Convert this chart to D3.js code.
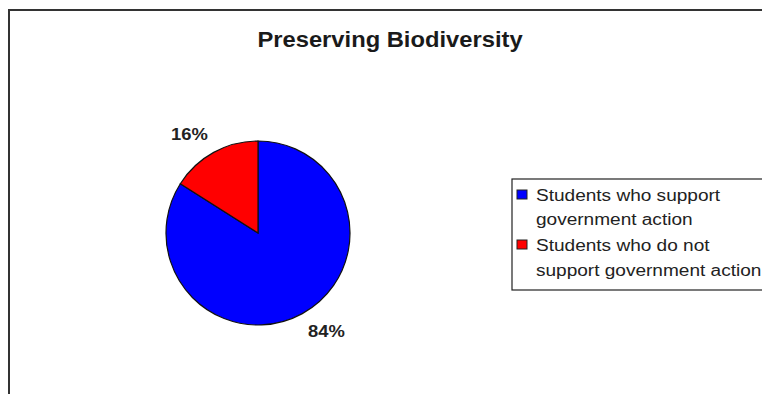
<!DOCTYPE html>
<html>
<head>
<meta charset="utf-8">
<script src="https://cdn.jsdelivr.net/npm/d3@7"></script>
<style>
  html, body { margin: 0; padding: 0; background: #fff; overflow: hidden; }
  svg { display: block; }
</style>
</head>
<body>
<svg id="chart" width="762" height="394"></svg>
<script>
const title = "Preserving Biodiversity";
const categories = [
  ["Students who support", "government action"],
  ["Students who do not", "support government action"]
];
const values = [84, 16];
const colors = ["#0000ff", "#ff0000"];

const FONT = "Liberation Sans, Arial, sans-serif";
const svg = d3.select("#chart");

// text placed at (x, y) and widened horizontally by sx
function wideText(parent, x, y, sx, str, opts) {
  const t = parent.append("g")
    .attr("transform", `translate(${x},${y}) scale(${sx},1)`)
    .append("text")
    .attr("font-family", FONT)
    .attr("fill", "#222")
    .text(str);
  Object.entries(opts || {}).forEach(([k, v]) => t.attr(k, v));
  return t;
}

// chart area frame
svg.append("rect")
  .attr("x", 9).attr("y", 10)
  .attr("width", 800).attr("height", 420)
  .attr("fill", "#fff")
  .attr("stroke", "#333").attr("stroke-width", 2);

wideText(svg, 390, 47, 1.08, title, {
  "text-anchor": "middle", "font-weight": "bold", "font-size": 22, "fill": "#1a1a1a"
});

const cx = 258, cy = 233, r = 92;
const pie = d3.pie().sort(null).value(d => d);
const arcs = pie(values);
const arc = d3.arc().innerRadius(0).outerRadius(r);

const g = svg.append("g").attr("transform", `translate(${cx},${cy})`);
g.selectAll("path")
  .data(arcs)
  .join("path")
  .attr("d", arc)
  .attr("fill", (d, i) => colors[i])
  .attr("stroke", "#111")
  .attr("stroke-width", 1.2);

// percentage labels outside the slices
const labelR = 120, labelTurn = -6 * Math.PI / 180;
arcs.forEach(d => {
  const a = (d.startAngle + d.endAngle) / 2 + labelTurn;
  const x = Math.sin(a) * labelR;
  const y = -Math.cos(a) * labelR;
  wideText(g, x, y, 1.15, d.data + "%", {
    "text-anchor": "middle", "dominant-baseline": "central",
    "font-weight": "bold", "font-size": 16
  });
});

// legend
const lg = svg.append("g");
lg.append("rect")
  .attr("x", 512).attr("y", 179)
  .attr("width", 300).attr("height", 111)
  .attr("fill", "#fff")
  .attr("stroke", "#222").attr("stroke-width", 1.2);

const rowY = [190, 240];
const baselines = [[201, 225], [251, 276]];
categories.forEach((lines, i) => {
  lg.append("rect")
    .attr("x", 517).attr("y", rowY[i])
    .attr("width", 10).attr("height", 9)
    .attr("fill", colors[i])
    .attr("stroke", "#222").attr("stroke-width", 1);
  lines.forEach((t, j) => {
    wideText(lg, 536, baselines[i][j], 1.19, t, { "font-size": 16 });
  });
});
</script>
</body>
</html>
